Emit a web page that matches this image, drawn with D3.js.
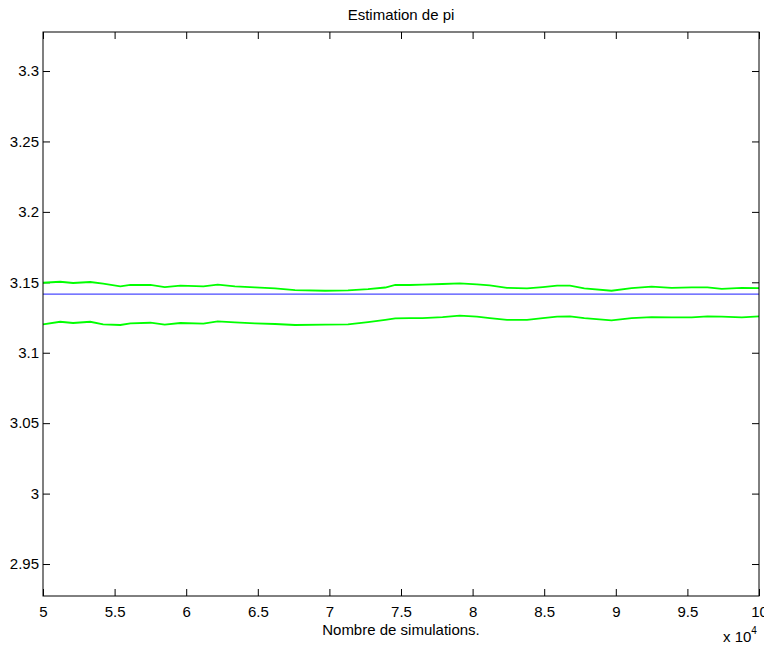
<!DOCTYPE html>
<html>
<head>
<meta charset="utf-8">
<script src="https://cdn.jsdelivr.net/npm/d3@7"></script>
<style>
  body { margin: 0; background: #fff; }
  text { font-family: "Liberation Sans", Arial, Helvetica, sans-serif; }
</style>
</head>
<body>
<div id="chart"></div>
<script>
// Estimation de pi : bornes de l'intervalle de confiance
var simulations = [50000, 51200, 52100, 53300, 54200, 55400, 56100, 57500, 58500, 59600,
  61200, 62200, 63400, 64800, 66200, 67600, 69700, 71300, 72700, 73900,
  74600, 75600, 76500, 77900, 79100, 80300, 81200, 82400, 83800, 84900,
  85900, 86800, 87800, 89700, 91100, 92500, 93900, 95300, 96400, 97400,
  98800, 100000];

var borneSup = [3.1497, 3.1504, 3.1495, 3.1502, 3.1490, 3.1471, 3.1481, 3.1481, 3.1466, 3.1476,
  3.1471, 3.1483, 3.1471, 3.1464, 3.1457, 3.1445, 3.1440, 3.1443, 3.1452, 3.1463,
  3.1481, 3.1481, 3.1483, 3.1488, 3.1493, 3.1486, 3.1478, 3.1461, 3.1457, 3.1466,
  3.1476, 3.1476, 3.1457, 3.1440, 3.1459, 3.1469, 3.1461, 3.1464, 3.1464, 3.1454,
  3.1461, 3.1459];

var borneInf = [3.1202, 3.1220, 3.1211, 3.1220, 3.1202, 3.1197, 3.1209, 3.1213, 3.1199, 3.1211,
  3.1206, 3.1223, 3.1216, 3.1209, 3.1204, 3.1197, 3.1199, 3.1202, 3.1218, 3.1234,
  3.1244, 3.1246, 3.1246, 3.1253, 3.1263, 3.1256, 3.1246, 3.1234, 3.1234, 3.1246,
  3.1256, 3.1258, 3.1246, 3.1230, 3.1246, 3.1253, 3.1251, 3.1251, 3.1258, 3.1256,
  3.1251, 3.1258];

var piValue = Math.PI;

var xTicks = [50000, 55000, 60000, 65000, 70000, 75000, 80000, 85000, 90000, 95000, 100000];
var yTicks = [2.95, 3, 3.05, 3.1, 3.15, 3.2, 3.25, 3.3];

// dimensions
var margin = { top: 32, right: 5, bottom: 51, left: 43 },
    width = 764 - margin.left - margin.right,
    height = 647 - margin.top - margin.bottom;

var svg = d3.select("#chart")
  .append("svg")
  .attr("width", 764)
  .attr("height", 647)
  .append("g")
  .attr("transform", "translate(" + margin.left + "," + margin.top + ")");

var x = d3.scaleLinear().domain([50000, 100000]).range([0, width]);
var y = d3.scaleLinear().domain([2.9273, 3.3277]).range([height, 0]);

var fmtX = function(d) { return String(+(d / 10000).toFixed(1)); };
var fmtY = function(d) { return String(+d.toFixed(2)); };

// axes (ticks vers l'interieur, style MATLAB)
var xAxis = svg.append("g")
  .attr("transform", "translate(0," + height + ")")
  .call(d3.axisBottom(x).tickValues(xTicks).tickSizeInner(-7).tickSizeOuter(0).tickPadding(10).tickFormat(fmtX));

var xAxisTop = svg.append("g")
  .call(d3.axisTop(x).tickValues(xTicks).tickSizeInner(-7).tickSizeOuter(0).tickFormat(""));

var yAxis = svg.append("g")
  .call(d3.axisLeft(y).tickValues(yTicks).tickSizeInner(-7).tickSizeOuter(0).tickPadding(4).tickFormat(fmtY));

var yAxisRight = svg.append("g")
  .attr("transform", "translate(" + width + ",0)")
  .call(d3.axisRight(y).tickValues(yTicks).tickSizeInner(-7).tickSizeOuter(0).tickFormat(""));

svg.selectAll(".domain").remove();
svg.selectAll(".tick line").attr("stroke", "#000");
svg.selectAll(".tick text").attr("fill", "#000").style("font-size", "15px");

// courbes
var lineSup = d3.line()
  .x(function(d, i) { return x(simulations[i]); })
  .y(function(d) { return y(d); });

svg.append("path")
  .datum(borneSup)
  .attr("fill", "none")
  .attr("stroke", "#00ff00")
  .attr("stroke-width", 1.8)
  .attr("d", lineSup);

svg.append("path")
  .datum(borneInf)
  .attr("fill", "none")
  .attr("stroke", "#00ff00")
  .attr("stroke-width", 1.8)
  .attr("d", lineSup);

svg.append("line")
  .attr("x1", x(50000))
  .attr("x2", x(100000))
  .attr("y1", y(piValue))
  .attr("y2", y(piValue))
  .attr("stroke", "#4a4aff")
  .attr("stroke-width", 1.3);

// cadre
svg.append("rect")
  .attr("x", 0)
  .attr("y", 0)
  .attr("width", width)
  .attr("height", height)
  .attr("fill", "none")
  .attr("stroke", "#000")
  .attr("stroke-width", 1);

// titres
svg.append("text")
  .attr("x", width / 2)
  .attr("y", -12)
  .attr("text-anchor", "middle")
  .style("font-size", "15px")
  .text("Estimation de pi");

svg.append("text")
  .attr("x", width / 2)
  .attr("y", height + 39)
  .attr("text-anchor", "middle")
  .style("font-size", "15px")
  .text("Nombre de simulations.");

var expo = svg.append("text")
  .attr("x", 680)
  .attr("y", height + 46)
  .style("font-size", "15px");
expo.append("tspan").text("x 10");
expo.append("tspan").attr("dy", -8).style("font-size", "10px").text("4");
</script>
</body>
</html>
